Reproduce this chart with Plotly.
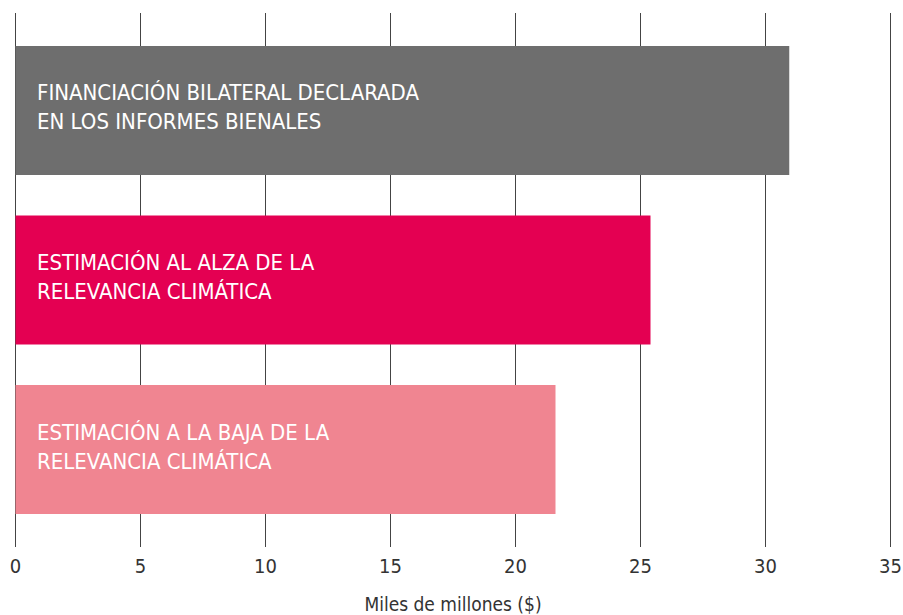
import plotly.graph_objects as go

categories = [
    "FINANCIACIÓN BILATERAL DECLARADA<br>EN LOS INFORMES BIENALES",
    "ESTIMACIÓN AL ALZA DE LA<br>RELEVANCIA CLIMÁTICA",
    "ESTIMACIÓN A LA BAJA DE LA<br>RELEVANCIA CLIMÁTICA",
]
values = [30.95, 25.4, 21.6]
colors = ["#6E6E6E", "#E40052", "#F08591"]
tick_vals = [0, 5, 10, 15, 20, 25, 30, 35]
axis_title = "Miles de millones ($)"

FONT = "DejaVu Sans Condensed, Roboto"

fig = go.Figure()
fig.add_trace(go.Bar(
    x=values,
    y=categories,
    orientation="h",
    marker=dict(color=colors, line=dict(width=0)),
    width=0.76,
    hoverinfo="skip",
))

for cat in categories:
    fig.add_annotation(
        x=0, y=cat, xref="x", yref="y",
        text=cat, showarrow=False,
        xanchor="left", yanchor="middle", align="left",
        xshift=19, yshift=3,
        font=dict(family=FONT, size=22, color="white"),
    )

fig.update_layout(
    width=903, height=615,
    margin=dict(l=13.5, r=10.5, t=13, b=68),
    paper_bgcolor="white",
    plot_bgcolor="white",
    showlegend=False,
    font=dict(family=FONT, color="#333333"),
    xaxis=dict(
        range=[-0.06, 35.06],
        tickvals=tick_vals,
        showgrid=True,
        gridcolor="#444444",
        gridwidth=1.3,
        zeroline=False,
        showline=False,
        ticks="",
        automargin=False,
        ticklabelstandoff=5,
        tickfont=dict(family=FONT, size=20, color="#333333"),
        title=dict(text=axis_title, font=dict(family=FONT, size=19, color="#333333"), standoff=22),
    ),
    yaxis=dict(
        range=[2.575, -0.575],
        showticklabels=False,
        showgrid=False,
        zeroline=False,
        showline=False,
        ticks="",
        automargin=False,
    ),
)

fig.write_html("out.html")
